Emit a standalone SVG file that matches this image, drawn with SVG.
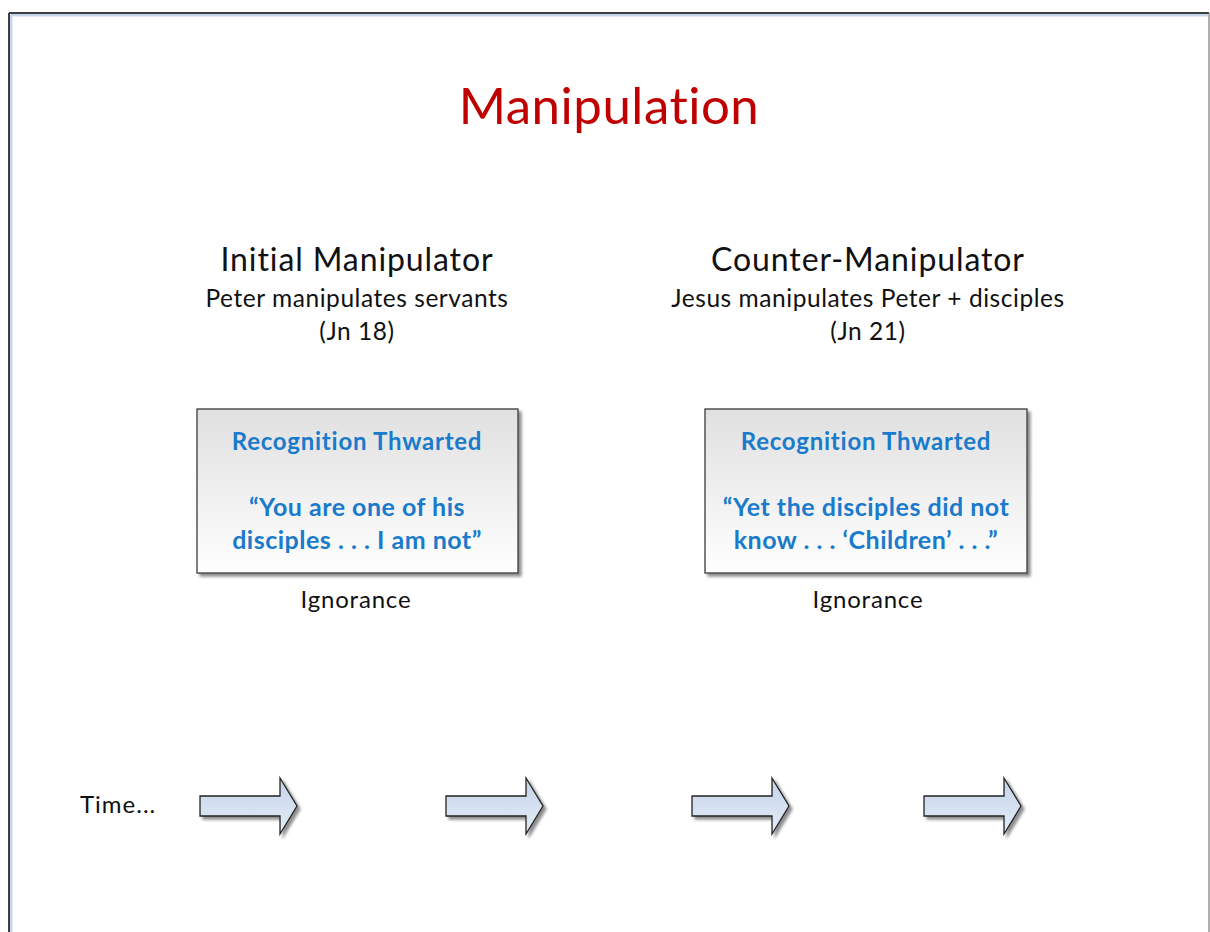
<svg xmlns="http://www.w3.org/2000/svg" width="1210" height="932" viewBox="0 0 1210 932">
<defs>
<linearGradient id="boxg" x1="0" y1="0" x2="0" y2="1">
<stop offset="0" stop-color="#e0e0e0"/>
<stop offset="1" stop-color="#ffffff"/>
</linearGradient>
<linearGradient id="arrg" x1="0" y1="0" x2="0" y2="1">
<stop offset="0" stop-color="#c4d3ea"/>
<stop offset="1" stop-color="#e4ecf7"/>
</linearGradient>
<filter id="sh" x="-10%" y="-10%" width="130%" height="130%">
<feGaussianBlur in="SourceAlpha" stdDeviation="1.5"/>
<feOffset dx="3" dy="3" result="b"/>
<feComponentTransfer><feFuncA type="linear" slope="0.45"/></feComponentTransfer>
<feMerge><feMergeNode/><feMergeNode in="SourceGraphic"/></feMerge>
</filter>
<path id="arrow" d="M0,-10 H80 V-28 L97,0 L80,28 V10 H0 Z"/>
</defs>
<style>
.t{font-family:Lato,"Open Sans",sans-serif;fill:#111;text-anchor:middle}
.h{font-size:32px;letter-spacing:0.9px}
.s{font-size:24.5px;letter-spacing:0.55px}
.b{font-family:Lato,"Open Sans",sans-serif;font-weight:bold;fill:#1a7acb;text-anchor:middle;font-size:24px;letter-spacing:0.75px}
.q{font-size:25px;letter-spacing:0.5px}
.box{fill:url(#boxg);stroke:#3a3a3a;stroke-width:1.3}
.arr{fill:url(#arrg);stroke:#222;stroke-width:1.3}
</style>
<rect x="0" y="0" width="1210" height="932" fill="#fff"/>
<g id="frame">
<line x1="11" y1="15" x2="1208" y2="15" stroke="#c8d6ec" stroke-width="3"/>
<line x1="11" y1="15" x2="11" y2="932" stroke="#c8d6ec" stroke-width="3"/>
<line x1="9" y1="13" x2="1209" y2="13" stroke="#000" stroke-width="1.5"/>
<line x1="9" y1="13" x2="9" y2="932" stroke="#000" stroke-width="1.5"/>
<line x1="1209" y1="13" x2="1209" y2="932" stroke="#777" stroke-width="1.2"/>
</g>
<g id="title"><text x="609" y="124" class="t" style="font-size:51px;letter-spacing:0.5px;fill:#c00000">Manipulation</text></g>
<g id="left-header">
<text x="357" y="271" class="t h">Initial Manipulator</text>
<text x="357" y="307" class="t s">Peter manipulates servants</text>
<text x="357" y="340" class="t s">(Jn 18)</text>
</g>
<g id="right-header">
<text x="868" y="271" class="t h">Counter-Manipulator</text>
<text x="868" y="307" class="t s">Jesus manipulates Peter + disciples</text>
<text x="868" y="340" class="t s">(Jn 21)</text>
</g>
<g id="box1">
<rect x="197" y="409" width="321" height="164" class="box" filter="url(#sh)"/>
<text x="357" y="450" class="b">Recognition Thwarted</text>
<text x="357" y="516" class="b q">“You are one of his</text>
<text x="357" y="549" class="b q">disciples . . . I am not”</text>
</g>
<g id="box2">
<rect x="705" y="409" width="322" height="164" class="box" filter="url(#sh)"/>
<text x="866" y="450" class="b">Recognition Thwarted</text>
<text x="866" y="516" class="b q">“Yet the disciples did not</text>
<text x="866" y="549" class="b q">know . . . ‘Children’ . . .”</text>
</g>
<g id="ignorance1"><text x="356" y="608" class="t s" style="font-size:24px;letter-spacing:0.8px">Ignorance</text></g>
<g id="ignorance2"><text x="868" y="608" class="t s" style="font-size:24px;letter-spacing:0.8px">Ignorance</text></g>
<g id="time"><text x="80" y="813" class="t" style="text-anchor:start;font-size:24px;letter-spacing:1px">Time...</text></g>
<g id="connectors">
<use href="#arrow" x="200" y="806" class="arr" filter="url(#sh)"/>
<use href="#arrow" x="446" y="806" class="arr" filter="url(#sh)"/>
<use href="#arrow" x="692" y="806" class="arr" filter="url(#sh)"/>
<use href="#arrow" x="924" y="806" class="arr" filter="url(#sh)"/>
</g>
</svg>
